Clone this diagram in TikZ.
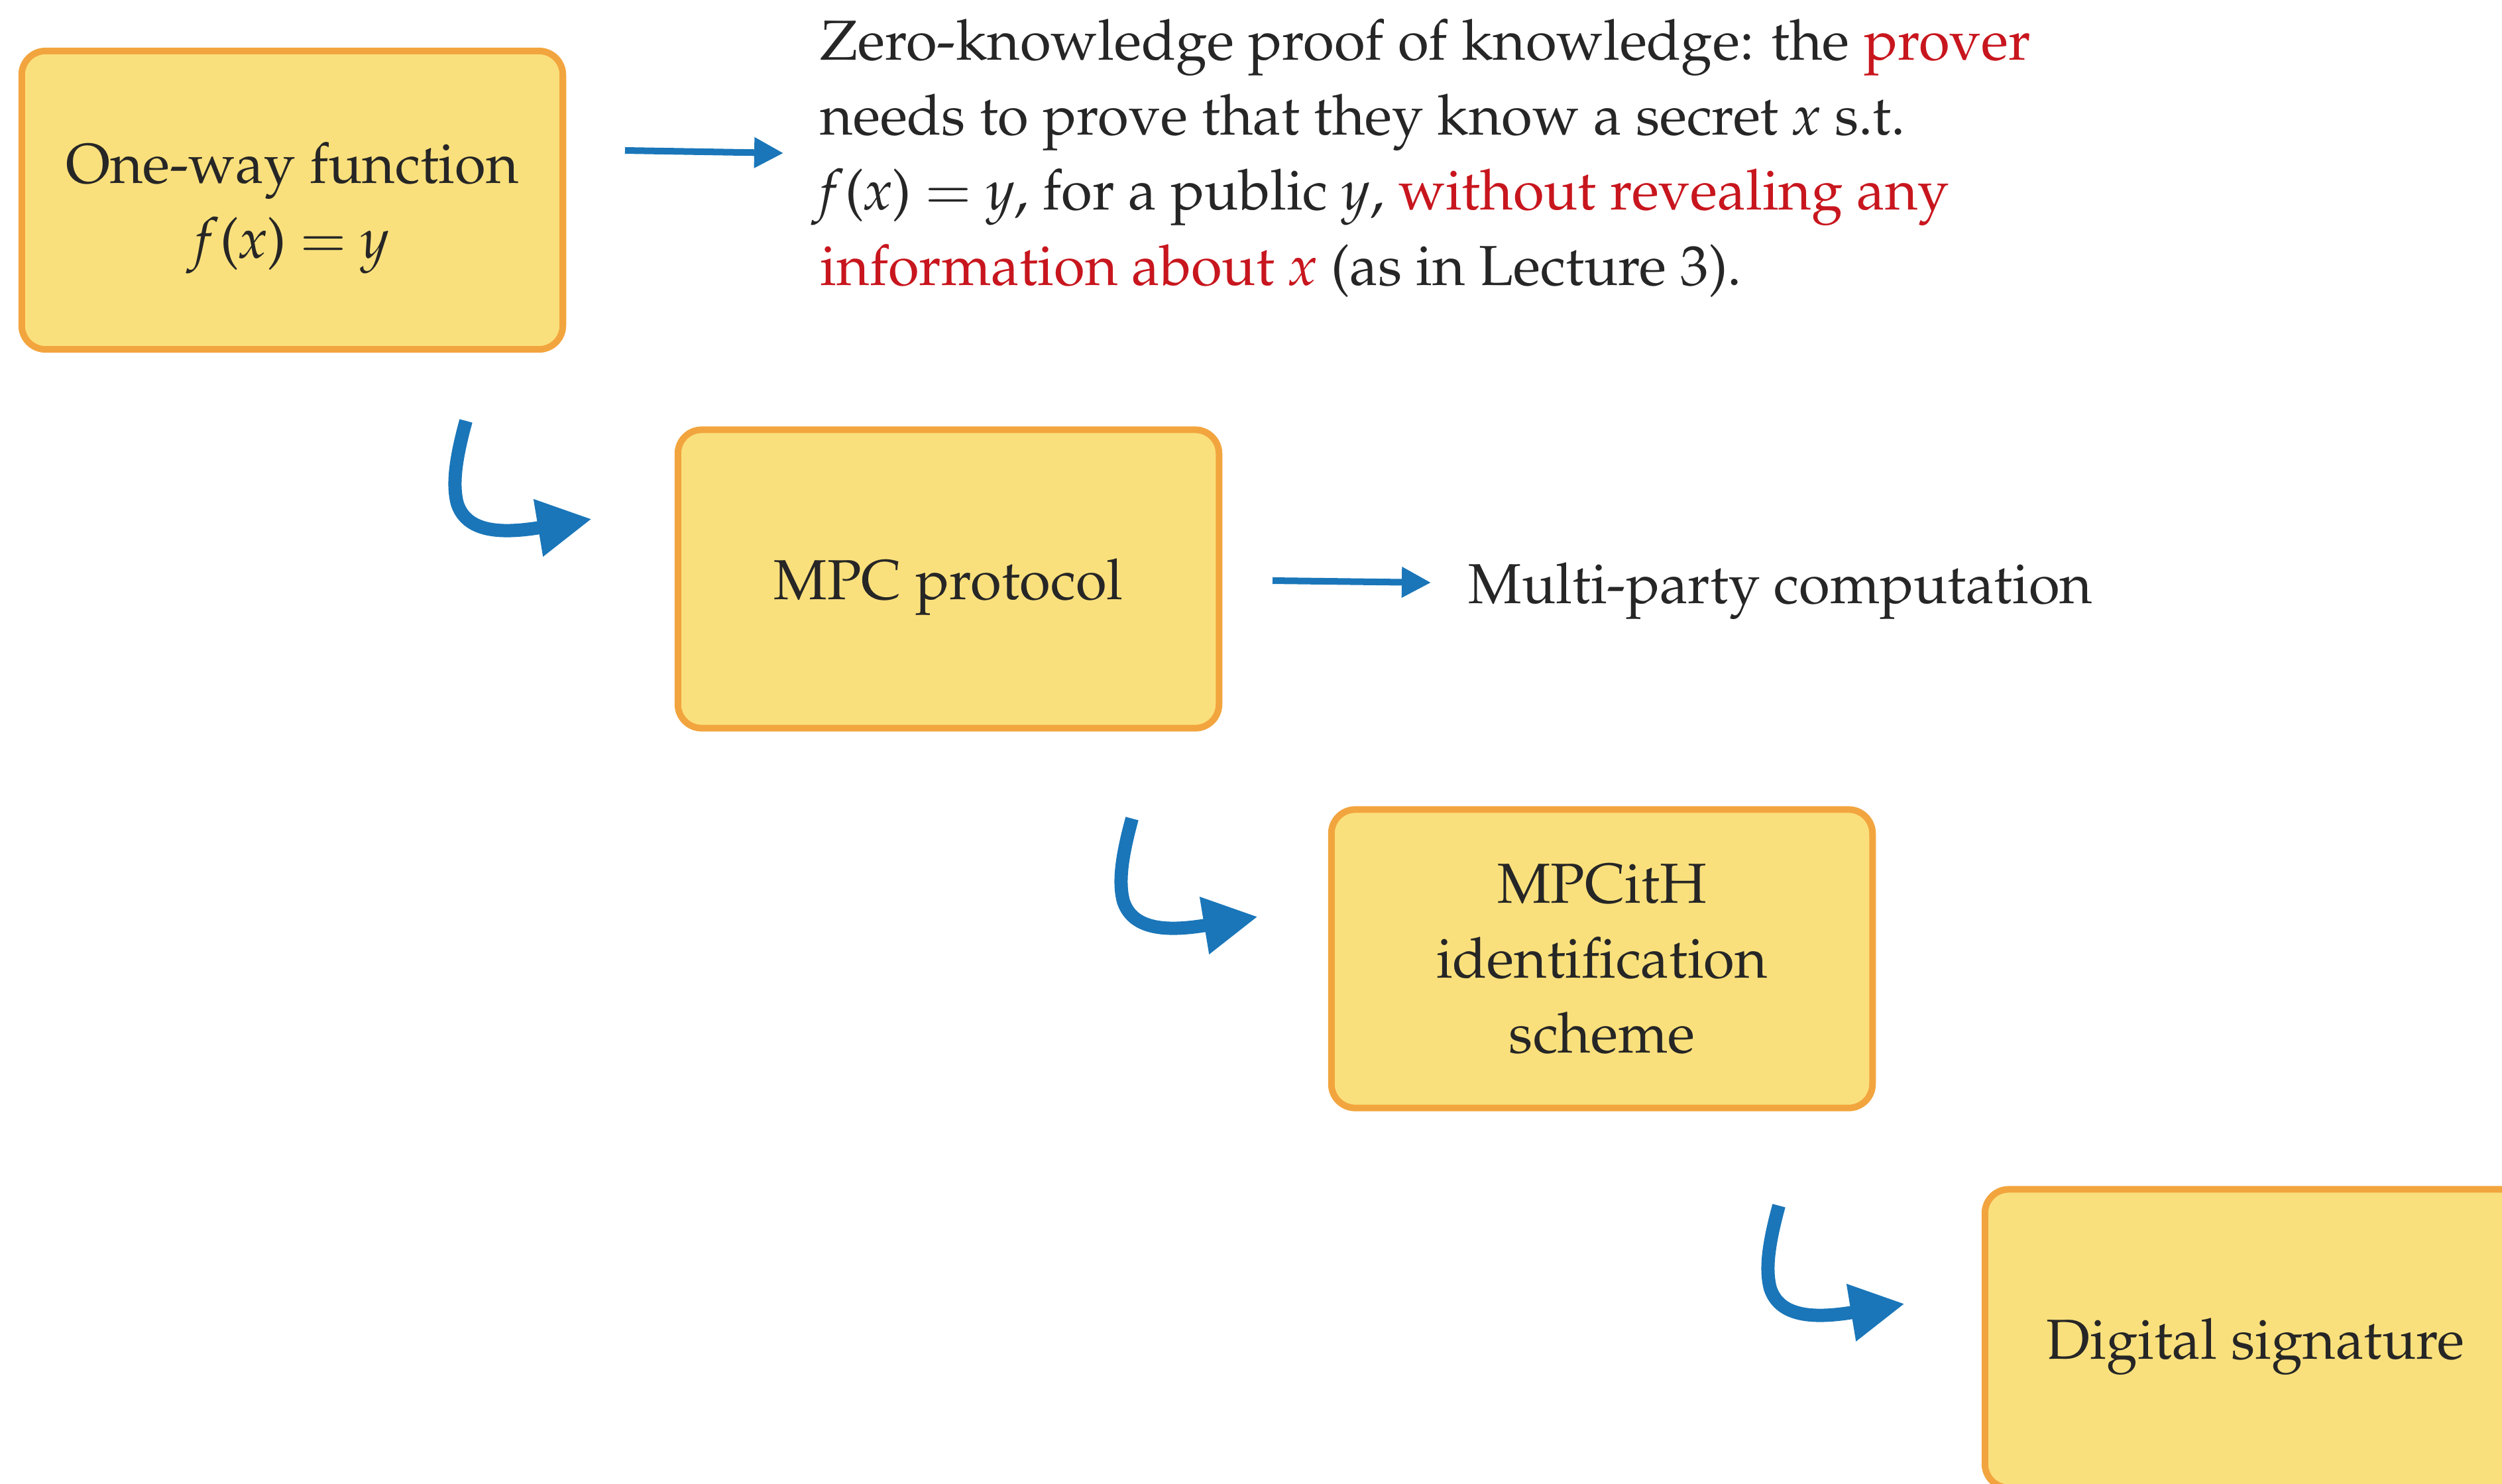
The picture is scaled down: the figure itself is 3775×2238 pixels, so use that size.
\documentclass[tikz,border=0pt]{standalone}
\usepackage[T1]{fontenc}
\usepackage{mathpazo}
\usetikzlibrary{arrows.meta,calc}

\definecolor{boxfill}{HTML}{FAE07C}
\definecolor{boxedge}{HTML}{F2A53E}
\definecolor{flowblue}{HTML}{1A76B9}
\definecolor{ink}{HTML}{262626}
\definecolor{accent}{HTML}{C8161E}

\tikzset{
  stagebox/.style={draw=boxedge, fill=boxfill, line width=0.1cm,
    rounded corners=0.36cm, minimum width=8.16cm, minimum height=4.50cm,
    inner sep=0pt, align=center, text=ink},
  lowtext/.style={text depth=0pt},
  plaintext/.style={inner sep=0pt, text=ink},
  thinarrow/.style={draw=flowblue, line width=0.1cm,
    -{Triangle[length=0.44cm,width=0.44cm,fill=flowblue]}},
  bendarrow/.style={draw=flowblue, line width=0.2cm,
    -{Triangle[length=0.82cm,width=0.82cm,fill=flowblue]}}
}
% f(x) = y set with text italics
\newcommand{\fxy}{\textit{f}\kern0.03em(\textit{x}) $=$ \textit{y}}

\begin{document}
\begin{tikzpicture}[x=0.01cm, y=-0.01cm,
    font=\fontsize{24.2pt}{32.15pt}\selectfont]
  \useasboundingbox (0,0) rectangle (3775,2238);
  \clip (0,0) rectangle (3775,2238);

  % the four stages of the construction
  \node[stagebox, lowtext] (owf) at (441,302) {One-way function\\ \fxy};
  \node[stagebox, lowtext] (mpc) at (1431,873.5) {MPC protocol};
  \node[stagebox] (idf) at (2417,1446.5) {MPCitH\\ identification\\ scheme};
  \node[stagebox, lowtext] (sig) at (3403,2019.5) {Digital signature};

  % side remarks
  \node[plaintext, anchor=base west, align=left] (zk) at (1237,430)
    {Zero-knowledge proof of knowledge: the \textcolor{accent}{prover}\\
     needs to prove that they know a secret \textit{x} s.t.\\
     \fxy, for a public \textit{y}, \textcolor{accent}{without revealing any}\\
     \textcolor{accent}{information about \textit{x}} (as in Lecture 3).};
  \node[plaintext, anchor=base west] (mpcnote) at (2215,910) {Multi-party computation};

  % straight pointers to the remarks
  \coordinate (zkfrom) at (943,227);
  \coordinate (zkto) at (1182,231);
  \coordinate (mpcfrom) at (1920,876);
  \coordinate (mpcto) at (2159,879);
  \draw[thinarrow] (zkfrom) -- (zkto);
  \draw[thinarrow] (mpcfrom) -- (mpcto);

  % bent arrows leading from one stage to the next
  \coordinate (bendA) at (703,635);
  \coordinate (bendB) at (1708,1235);
  \coordinate (bendC) at (2684,1819);
  \foreach \s/\t in {bendA/mpc, bendB/idf, bendC/sig}{
    \coordinate (\s tip) at ($(\s)+(190,148)$);
    \draw[bendarrow] (\s)
      .. controls ($(\s)+(-15,55)$) and ($(\s)+(-21,95)$) .. ($(\s)+(-13,125)$)
      .. controls ($(\s)+(2,170)$) and ($(\s)+(57,170)$) .. (\s tip);
  }
\end{tikzpicture}
\end{document}
